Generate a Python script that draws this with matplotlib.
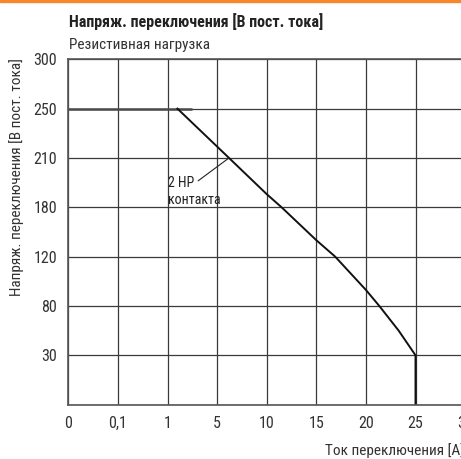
import numpy as np
import matplotlib
matplotlib.use("Agg")
import matplotlib.pyplot as plt
from matplotlib import font_manager as fm


def first_font(candidates):
    for name in candidates:
        try:
            fm.findfont(fm.FontProperties(family=name), fallback_to_default=False)
            return name
        except ValueError:
            continue
    return 'DejaVu Sans'


FONT = first_font(['Roboto Condensed', 'Fira Sans Condensed', 'PT Sans Narrow', 'IBM Plex Sans Condensed'])
plt.rcParams['font.family'] = [FONT, 'DejaVu Sans']

# Axis tick values (non-uniform, equally spaced on the chart)
x_ticks = [0, 0.1, 1, 5, 10, 15, 20, 25, 30]
x_tick_labels = ["0", "0,1", "1", "5", "10", "15", "20", "25", "30"]
y_ticks = [0, 30, 80, 120, 180, 210, 250, 300]
y_tick_labels = ["", "30", "80", "120", "180", "210", "250", "300"]

# Rated voltage level (horizontal segment)
rated_current = [0, 3.0]
rated_voltage = [250, 250]

# Load limit curve: 2 NO contacts
curve_current = [1.8, 6.2, 10.0, 11.5, 15.0, 16.9, 20.0, 21.35, 23.3, 25.0, 25.0]
curve_voltage = [250, 210, 188, 180, 140, 120, 93, 80, 55, 30, 0]

title = "Напряж. переключения [В пост. тока]"
subtitle = "Резистивная нагрузка"
y_label = "Напряж. переключения [В пост. тока]"
x_label = "Ток переключения [A]"
curve_label_1 = "2 HP"
curve_label_2 = "контакта"


def piecewise(ticks):
    pos = np.arange(len(ticks), dtype=float)
    fwd = lambda v: np.interp(v, ticks, pos)
    inv = lambda p: np.interp(p, pos, ticks)
    return fwd, inv


W, H = 461, 459
fig = plt.figure(figsize=(W / 100, H / 100), dpi=100)

left, right, top, bottom = 68.3, 465.1, 59.3, 404.6
ax = fig.add_axes([left / W, 1 - bottom / H, (right - left) / W, (bottom - top) / H])
ax.set_xscale('function', functions=piecewise(x_ticks))
ax.set_yscale('function', functions=piecewise(y_ticks))
ax.set_xlim(0, 30)
ax.set_ylim(0, 300)

ax.set_xticks(x_ticks)
ax.set_xticklabels(x_tick_labels)
ax.set_yticks(y_ticks)
ax.set_yticklabels(y_tick_labels)
ax.xaxis.set_minor_locator(matplotlib.ticker.NullLocator())
ax.yaxis.set_minor_locator(matplotlib.ticker.NullLocator())
ax.tick_params(length=0, labelsize=11.5, colors='#333333')
ax.tick_params(axis='x', pad=8)
ax.tick_params(axis='y', pad=8)

ax.grid(True, color='#3a3a3a', linewidth=0.9)
ax.set_axisbelow(True)
for side in ('left', 'bottom', 'top'):
    ax.spines[side].set_color('#555555')
    ax.spines[side].set_linewidth(1.2)
ax.spines['right'].set_visible(False)

ax.plot(rated_current, rated_voltage, color='#4a4a4a', linewidth=1.8, solid_capstyle='butt')
ax.plot(curve_current, curve_voltage, color='#111111', linewidth=1.4, solid_joinstyle='round')

ax.annotate(curve_label_1, xy=(curve_current[1], curve_voltage[1]), xycoords='data',
            xytext=(168 / W, 1 - 183 / H), textcoords='figure fraction',
            ha='left', va='center', fontsize=10, color='#222222',
            arrowprops=dict(arrowstyle='-', color='#222222', lw=0.8,
                            shrinkA=1, shrinkB=0, relpos=(1.0, 0.45)))
fig.text(168 / W, 1 - 200 / H, curve_label_2, fontsize=10, color='#222222',
         ha='left', va='center')

# Orange accent bar
fig.patches.append(plt.Rectangle((0, 1 - 2.2 / H), 1, 2.2 / H, transform=fig.transFigure,
                                 color='#F5882A', zorder=5))

fig.text(69 / W, 1 - 22 / H, title, fontsize=11.5, fontweight='bold', color='#222222',
         ha='left', va='center')
fig.text(69 / W, 1 - 45 / H, subtitle, fontsize=11, color='#333333',
         ha='left', va='center')
fig.text(17 / W, 1 - 177 / H, y_label, fontsize=11, color='#333333',
         rotation=90, ha='center', va='center')
fig.text(325 / W, 1 - 451 / H, x_label, fontsize=11, color='#333333',
         ha='left', va='center')

fig.savefig("out.png", dpi=100)
